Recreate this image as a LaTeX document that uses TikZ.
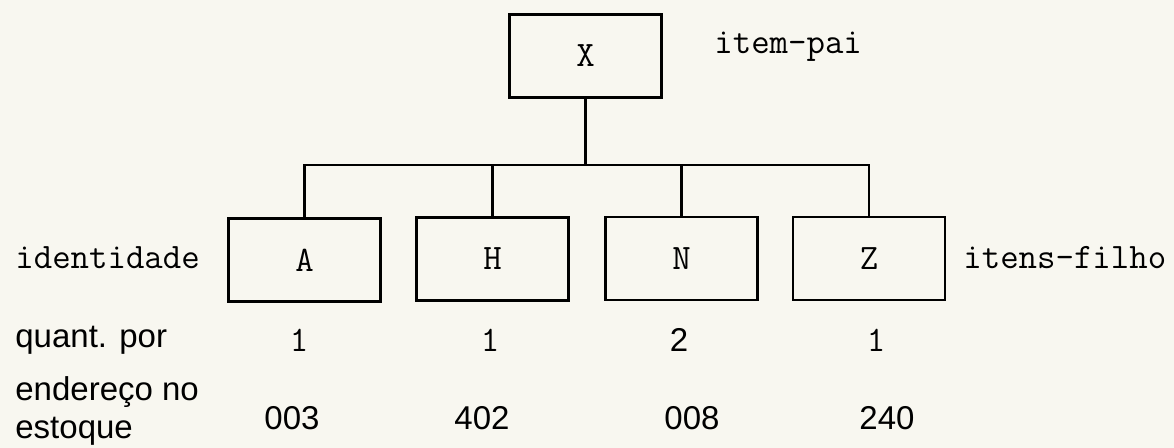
\documentclass[tikz,border=0pt]{standalone}
\usepackage{fontspec}
\setsansfont{Liberation Sans}
\usepackage{tikz}
\definecolor{paper}{HTML}{F8F7F0}
\tikzset{
    item/.style={draw, line width=1.3pt, minimum width=76pt, minimum height=41.5pt,
        inner sep=0pt, font=\fontsize{17.9}{20}\selectfont\ttfamily},
    tw/.style={inner sep=0pt, font=\fontsize{17.9}{20}\selectfont\ttfamily},
    sf/.style={inner sep=0pt, font=\fontsize{16.5}{19}\selectfont\sffamily},
    link/.style={line width=1.3pt},
}

\begin{document}
\begin{tikzpicture}[x=0.5pt,y=-0.5pt]
        \fill[paper] (0,0) rectangle (1174,448);
        \useasboundingbox (0,0) rectangle (1174,448);
        % parent and children
        \node[item] (X) at (585.5,56) {X};
        \node[item] (A) at (304.5,260) {A};
        \node[item] (H) at (492.5,259) {H};
        \node[item] (N) at (681.5,258.5) {N};
        \node[item] (Z) at (869,258.5) {Z};
        \coordinate (bar) at (588,165);
        % row labels
        \node[tw,anchor=west] (pai) at (714,47) {item-pai};
        \node[tw,anchor=west] (ident) at (15,258) {identidade};
        \node[tw,anchor=west] (filho) at (963,258) {itens-filho};
        \node[sf,anchor=west] (quant) at (15,340) {quant. por};
        \node[sf,anchor=west,align=left] (ender) at (15,411) {endereço no\\estoque};
        % quantities
        \node[tw] (qA) at (299,340) {1};
        \node[tw] (qH) at (490,340) {1};
        \node[sf] (qN) at (679,340) {2};
        \node[tw] (qZ) at (876,340) {1};
        % addresses
        \node[sf] (eA) at (292,418) {003};
        \node[sf] (eH) at (482,418) {402};
        \node[sf] (eN) at (692,418) {008};
        \node[sf] (eZ) at (887,418) {240};
        % tree lines
        \draw[link] (X.south) -- (X.south |- bar);
        \draw[link] (A.north) -- (A.north |- bar) -- (Z.north |- bar) -- (Z.north);
        \draw[link] (H.north) -- (H.north |- bar);
        \draw[link] (N.north) -- (N.north |- bar);
    \end{tikzpicture}
\end{document}
